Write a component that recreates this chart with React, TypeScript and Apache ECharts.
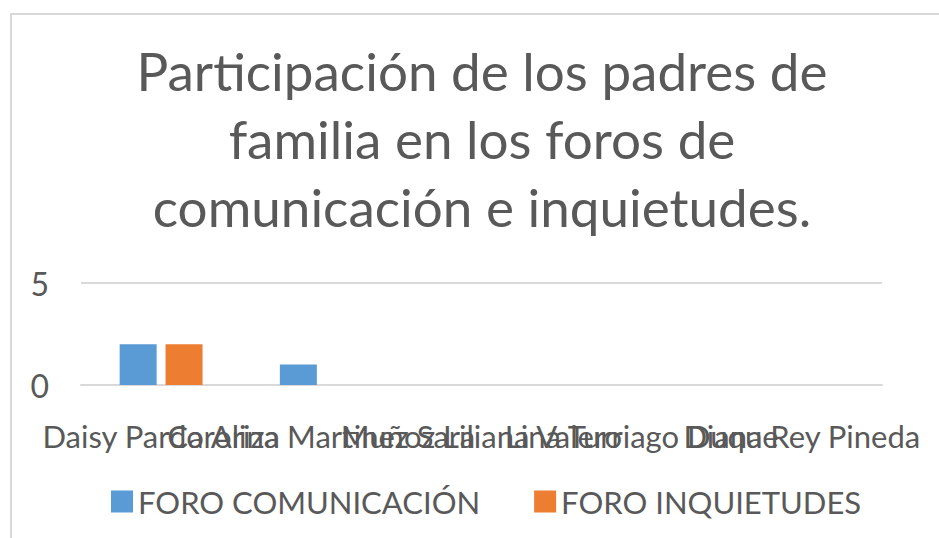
import React, { useEffect, useRef } from "react";
import * as echarts from "echarts";

const categories = [
  "Daisy Pardo Ariza",
  "Carolina Martinez Sara",
  "Muñoz Liliana Valero",
  "Lina Turriago Duque",
  "Diana Rey Pineda",
];
const foroComunicacion = [2, 1, 0, 0, 0];
const foroInquietudes = [2, 0, 0, 0, 0];
const seriesNames = ["FORO COMUNICACIÓN", "FORO INQUIETUDES"];
const titleLines = [
  "Participación de los padres de",
  "familia en los foros de",
  "comunicación e inquietudes.",
];

const FONT = "Lato, 'Open Sans', sans-serif";
const TEXT = "#595959";

export default function App() {
  const ref = useRef<HTMLDivElement>(null);
  useEffect(() => {
    if (!ref.current) return;
    const chart = echarts.init(ref.current, undefined, { renderer: "svg" });
    chart.setOption({
      animation: false,
      backgroundColor: "#ffffff",
      graphic: [
        {
          type: "rect",
          shape: { x: 11, y: 14, width: 960, height: 560 },
          style: { fill: "none", stroke: "#d9d9d9", lineWidth: 2 },
          silent: true,
        },
        {
          type: "text",
          x: 482,
          y: 36,
          style: {
            text: titleLines.join("\n"),
            fill: TEXT,
            font: `53px ${FONT}`,
            textAlign: "center",
            lineHeight: 68,
          },
        },
      ],
      legend: {
        left: 106,
        top: 481,
        itemWidth: 22,
        itemHeight: 22,
        itemGap: 54,
        icon: "rect",
        textStyle: { color: TEXT, fontSize: 31, fontFamily: FONT },
        data: seriesNames,
      },
      grid: { left: 81, right: 57, top: 283, bottom: 153, containLabel: false },
      xAxis: {
        type: "category",
        data: categories,
        axisLine: { lineStyle: { color: "#d9d9d9", width: 2 } },
        axisTick: { show: false },
        axisLabel: {
          interval: 0,
          hideOverlap: false,
          color: TEXT,
          fontSize: 31,
          fontFamily: FONT,
          margin: 35,
        },
      },
      yAxis: {
        type: "value",
        min: 0,
        max: 5,
        interval: 5,
        axisLine: { show: false },
        axisTick: { show: false },
        splitLine: { lineStyle: { color: "#d9d9d9", width: 2 } },
        axisLabel: { color: TEXT, fontSize: 32, fontFamily: FONT, margin: 32 },
      },
      series: [
        {
          name: seriesNames[0],
          type: "bar",
          data: foroComunicacion,
          barWidth: 37,
          barGap: "24%",
          itemStyle: { color: "#5b9bd5" },
        },
        {
          name: seriesNames[1],
          type: "bar",
          data: foroInquietudes,
          barWidth: 37,
          itemStyle: { color: "#ed7d31" },
        },
      ],
    });
    return () => chart.dispose();
  }, []);
  return (
    <div
      ref={ref}
      style={{ position: "fixed", left: 0, top: 0, width: 939, height: 538 }}
    />
  );
}
